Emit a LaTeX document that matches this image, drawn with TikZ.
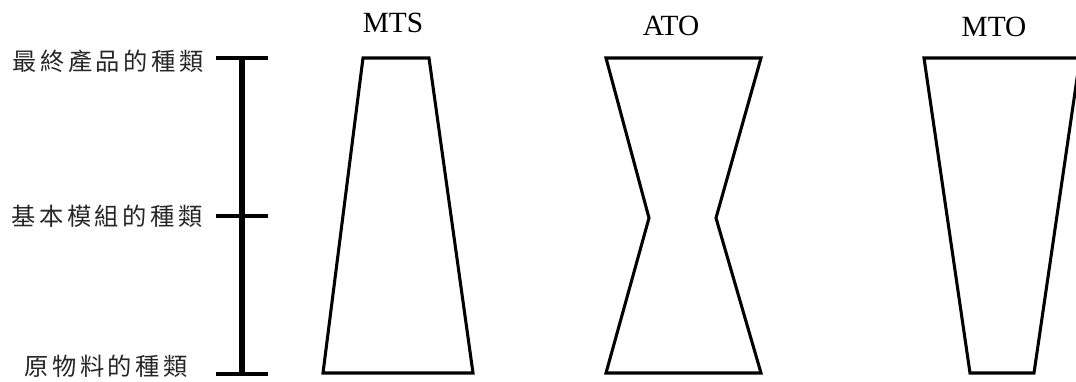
\documentclass[tikz,border=0pt]{standalone}
\usepackage{fontspec}
\setmainfont{Liberation Serif}
\newfontfamily\cjk[LetterSpace=15]{Noto Sans CJK TC}
\begin{document}
\begin{tikzpicture}[x=0.75pt,y=-0.75pt,
  shapeline/.style={line width=2.3pt,line join=miter},
  axisline/.style={line width=3.8pt},
  tickline/.style={line width=2.3pt},
  title/.style={font=\fontsize{22}{24}\selectfont,inner sep=0pt},
  level/.style={font=\cjk\fontsize{18.2}{20}\selectfont,inner sep=0pt,anchor=west,text=black!85}]
\useasboundingbox (0,0) rectangle (1076,382);
\clip (0,0) rectangle (1076,382);
% axis
\coordinate (atop) at (242,58);
\coordinate (amid) at (242,216);
\coordinate (abot) at (242,374);
\coordinate (t1l) at (216,58); \coordinate (t1r) at (268,58);
\coordinate (t2l) at (216,216); \coordinate (t2r) at (268,216);
\coordinate (t3l) at (216,374); \coordinate (t3r) at (268,374);
\draw[axisline] (atop) -- (abot);
\draw[tickline] (t1l) -- (t1r);
\draw[tickline] (t2l) -- (t2r);
\draw[tickline] (t3l) -- (t3r);
% labels
\node[level] (l1) at (12,61) {最終產品的種類};
\node[level] (l2) at (11,216) {基本模組的種類};
\node[level] (l3) at (24,366) {原物料的種類};
% titles
\node[title] (mts) at (393,23) {MTS};
\node[title] (ato) at (671,26) {ATO};
\node[title] (mto) at (994,27) {MTO};
% MTS shape
\draw[shapeline] (363,58) -- (429,58) -- (473,373) -- (323,373) -- cycle;
% ATO shape
\draw[shapeline] (606,58) -- (761,58) -- (716,218) -- (761,373) -- (606,373) -- (649,218) -- cycle;
% MTO shape
\draw[shapeline] (924,58) -- (1080,58) -- (1034,373) -- (970,373) -- cycle;
\end{tikzpicture}
\end{document}
